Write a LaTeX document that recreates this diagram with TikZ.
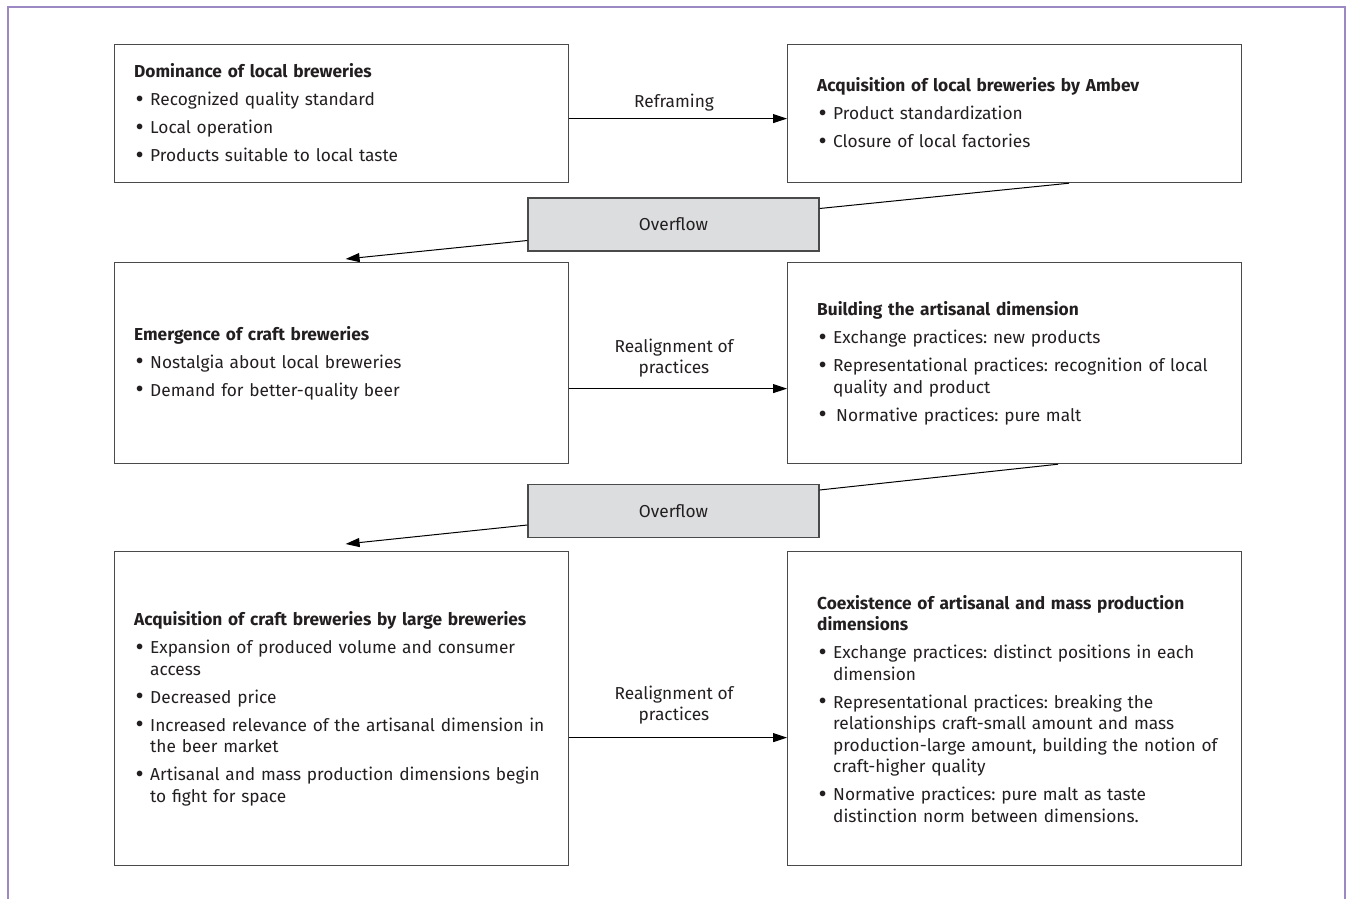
\documentclass[tikz,border=0pt]{standalone}
\usepackage{fontspec}
\usepackage{graphicx}
\setmainfont{Fira Sans}
\usetikzlibrary{arrows.meta,calc}
\definecolor{framecol}{HTML}{9C88C2}
\definecolor{edgecol}{HTML}{4A4A4A}
\definecolor{inkcol}{HTML}{231F20}
\definecolor{ovfill}{HTML}{DCDDDF}
\newcommand{\bulmark}{\makebox[16pt][l]{\hspace{1.5pt}\raisebox{-1.6pt}{\scalebox{1.45}{\textbullet}}}}
\newcommand{\bul}[1]{\par\vspace{6.5pt}\hangindent=16pt\hangafter=1\noindent\bulmark #1\par}
\newcommand{\ttl}[1]{\noindent\textbf{#1}\par}
\tikzset{
  box/.style={draw=edgecol, line width=1.2pt, inner sep=0pt, anchor=north west, minimum width=454pt},
  ovbox/.style={draw=edgecol, line width=1.2pt, fill=ovfill, inner sep=0pt, minimum width=291pt, minimum height=53pt, text=inkcol, font=\fontsize{17.3pt}{21.5pt}\selectfont},
  boxtext/.style={anchor=west, inner sep=0pt, text width=430pt, text=inkcol, font=\fontsize{17.3pt}{21.5pt}\selectfont\frenchspacing},
  lbl/.style={inner sep=0pt, align=center, text=inkcol, font=\fontsize{17.3pt}{21.5pt}\selectfont},
  conn/.style={draw=black, line width=1pt},
  arr/.style={conn, -{Triangle[length=14pt,width=9pt]}}
}
\begin{document}
\begin{tikzpicture}[x=1pt,y=-1pt]
\useasboundingbox (0,0) rectangle (1347,899);
% frame
\draw[framecol, line width=1.5pt] (8,899) -- (8,7) -- (1345,7) -- (1345,899);
% boxes
\node[box, minimum height=138pt] (b1) at (114,44) {};
\node[box, minimum height=138pt] (b2) at (787,44) {};
\node[box, minimum height=201pt] (b3) at (114,262) {};
\node[box, minimum height=201pt] (b4) at (787,262) {};
\node[box, minimum height=314pt] (b5) at (114,551) {};
\node[box, minimum height=314pt] (b6) at (787,551) {};
% texts
\node[boxtext] (t1) at ([xshift=20pt]b1.west) {\ttl{Dominance of local breweries}
\bul{Recognized quality standard}
\bul{Local operation}
\bul{Products suitable to local taste}};
\node[boxtext] (t2) at ([xshift=30pt]b2.west) {\ttl{Acquisition of local breweries by Ambev}
\bul{Product standardization}
\bul{Closure of local factories}};
\node[boxtext] (t3) at ([xshift=20pt]b3.west) {\ttl{Emergence of craft breweries}
\bul{Nostalgia about local breweries}
\bul{Demand for better-quality beer}};
\node[boxtext] (t4) at ([xshift=30pt]b4.west) {\ttl{Building the artisanal dimension}
\bul{Exchange practices: new products}
\bul{Representational practices: recognition of local\newline quality and product}
\bul{\hspace{3pt}Normative practices: pure malt}};
\node[boxtext] (t5) at ([xshift=20pt]b5.west) {\ttl{Acquisition of craft breweries by large breweries}
\bul{Expansion of produced volume and consumer\newline access}
\bul{Decreased price}
\bul{Increased relevance of the artisanal dimension in\newline the beer market}
\bul{Artisanal and mass production dimensions begin\newline to fight for space}};
\node[boxtext] (t6) at ([xshift=30pt]b6.west) {\ttl{Coexistence of artisanal and mass production\newline dimensions}
\bul{Exchange practices: distinct positions in each\newline dimension}
\bul{Representational practices: breaking the\newline relationships craft-small amount and mass\newline production-large amount, building the notion of\newline craft-higher quality}
\bul{Normative practices: pure malt as taste\newline distinction norm between dimensions.}};
% overflow boxes
\node[ovbox] (ov1) at (673.5,224.5) {Overflow};
\node[ovbox] (ov2) at (673.5,511) {Overflow};
% horizontal arrows
\draw[arr] ([yshift=-5pt]b1.east) -- ([yshift=-5pt]b2.west);
\draw[arr] ([yshift=-25.5pt]b3.east) -- ([yshift=-25.5pt]b4.west);
\draw[arr] ([yshift=-29pt]b5.east) -- ([yshift=-29pt]b6.west);
\node[lbl] (l1) at (674,103) {Reframing};
\node[lbl] (l2) at (674,358) {Realignment of\\practices};
\node[lbl] (l3) at (674,705) {Realignment of\\practices};
% overflow connectors
\draw[conn] ([xshift=54.5pt]b2.south) -- ([yshift=16pt]ov1.east);
\draw[arr] ([yshift=-16pt]ov1.west) -- ([xshift=4pt,yshift=3pt]b3.north);
\draw[conn] ([xshift=43.5pt]b4.south) -- ([yshift=21pt]ov2.east);
\draw[arr] ([yshift=-14pt]ov2.west) -- ([xshift=4pt,yshift=7pt]b5.north);
\end{tikzpicture}
\end{document}
